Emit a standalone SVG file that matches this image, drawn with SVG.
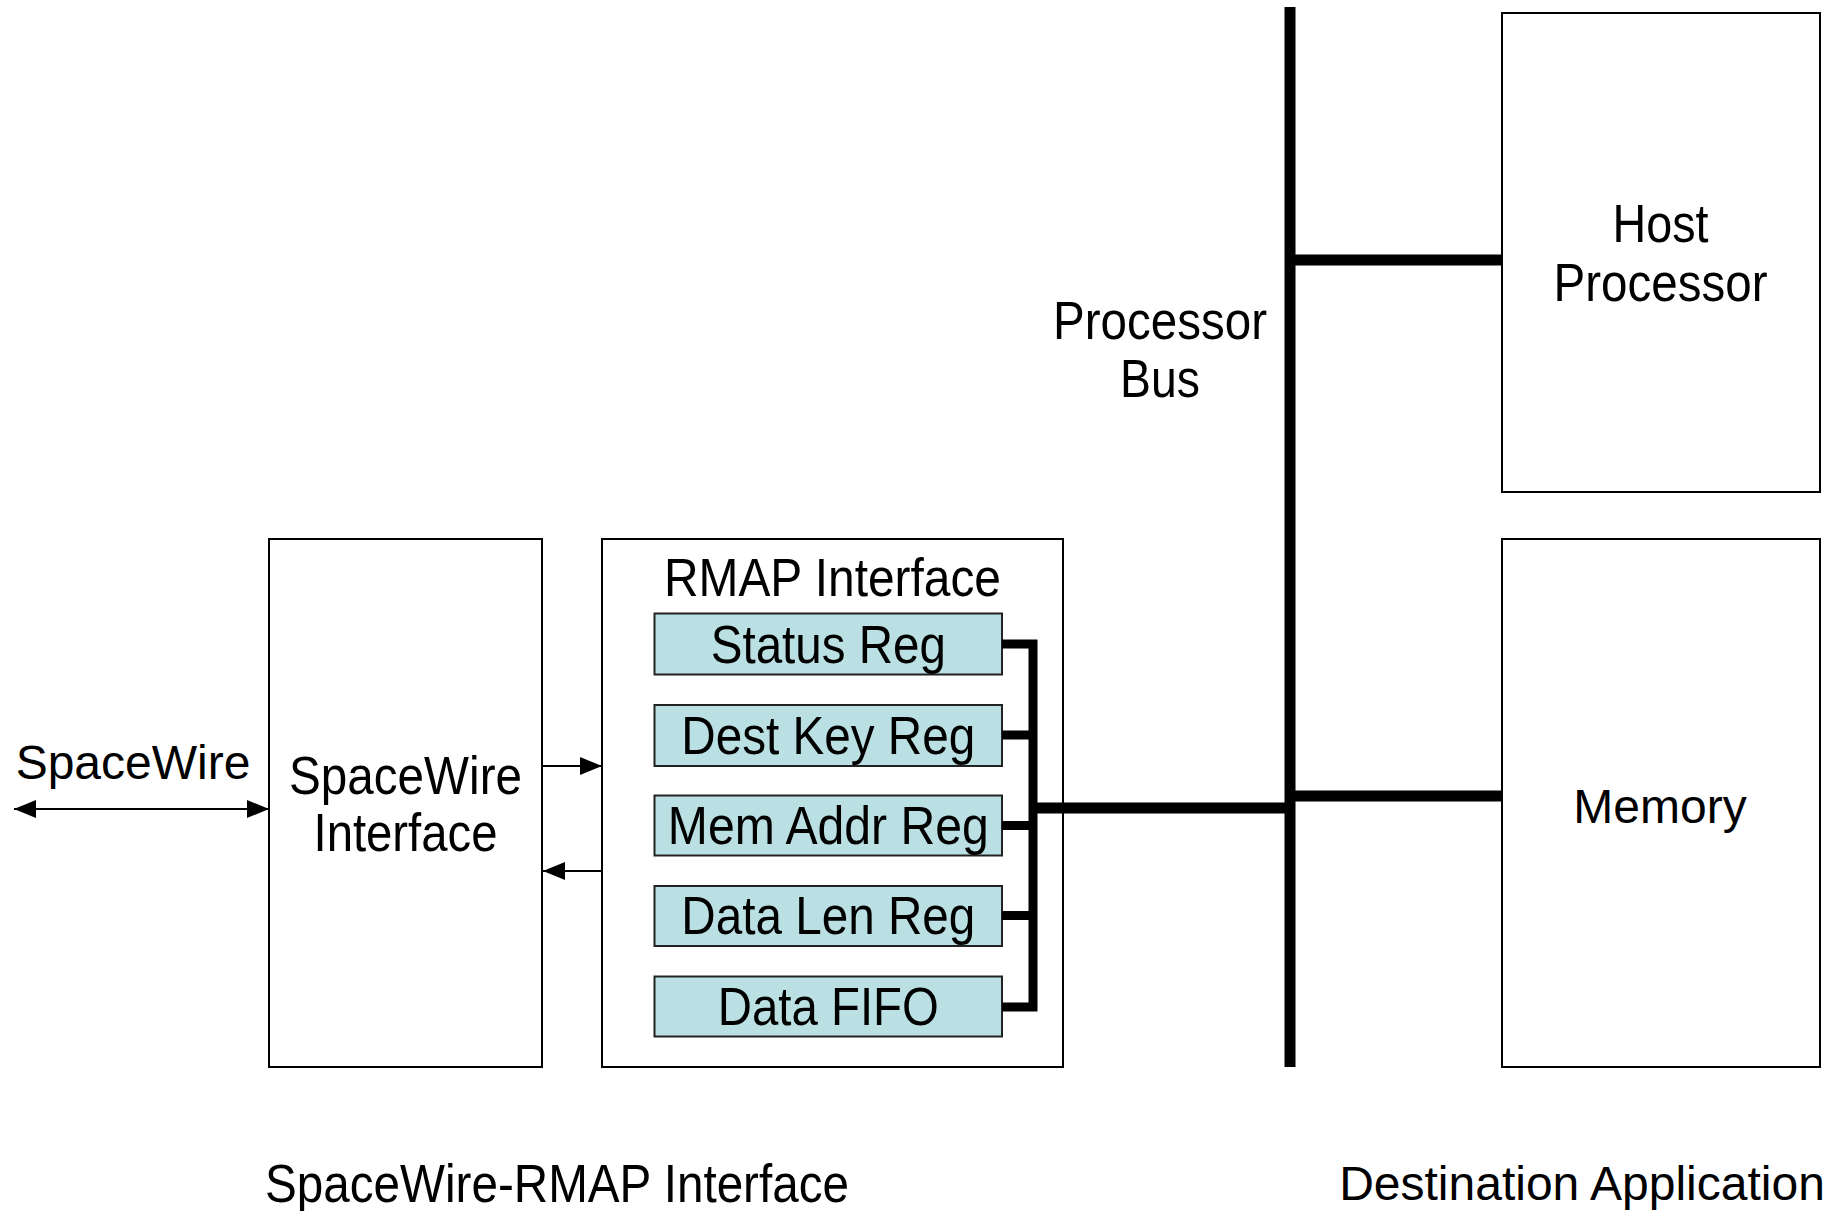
<svg xmlns="http://www.w3.org/2000/svg" width="1836" height="1211" viewBox="0 0 1836 1211">
  <defs>
    <marker id="arrowBig" viewBox="0 0 10 10" refX="10" refY="5" markerWidth="22" markerHeight="18" markerUnits="userSpaceOnUse" orient="auto-start-reverse" preserveAspectRatio="none">
      <path d="M0,0 L10,5 L0,10 z" fill="#000"/>
    </marker>
  </defs>
  <style>
    .box { fill: #fff; stroke: #000; stroke-width: 2; }
    .reg { fill: #bbe0e3; stroke: #222; stroke-width: 2; }
    .lbl { font-family: "Liberation Sans", Arial, sans-serif; font-size: 48px; fill: #000; text-anchor: middle; }
    .tall { font-size: 54px; }
    .thin { fill: none; stroke: #000; stroke-width: 2; }
    .bus { fill: none; stroke: #000; stroke-width: 11; stroke-linejoin: miter; stroke-linecap: butt; }
    .rbus { fill: none; stroke: #000; stroke-width: 9; stroke-linejoin: miter; stroke-linecap: butt; }
  </style>
  <rect width="1836" height="1211" fill="#fff"/>

  <text class="lbl" x="133" y="779">SpaceWire</text>

  <g id="spacewire-interface">
    <rect class="box" x="269" y="539" width="273" height="528"/>
    <text class="lbl tall" x="405.5" y="794" textLength="233" lengthAdjust="spacingAndGlyphs">SpaceWire</text>
    <text class="lbl tall" x="405.5" y="851" textLength="184" lengthAdjust="spacingAndGlyphs">Interface</text>
  </g>

  <g id="rmap-interface">
    <rect class="box" x="602" y="539" width="461" height="528"/>
    <text class="lbl tall" x="832.5" y="596" textLength="337" lengthAdjust="spacingAndGlyphs">RMAP Interface</text>
  </g>

  <g id="status-reg">
    <rect class="reg" x="654.5" y="613.5" width="347.5" height="61"/>
    <text class="lbl tall" x="828.3" y="663" textLength="235" lengthAdjust="spacingAndGlyphs">Status Reg</text>
  </g>
  <g id="dest-key-reg">
    <rect class="reg" x="654.5" y="705" width="347.5" height="61"/>
    <text class="lbl tall" x="828.3" y="754" textLength="294" lengthAdjust="spacingAndGlyphs">Dest Key Reg</text>
  </g>
  <g id="mem-addr-reg">
    <rect class="reg" x="654.5" y="795.5" width="347.5" height="60"/>
    <text class="lbl tall" x="828.3" y="844" textLength="321" lengthAdjust="spacingAndGlyphs">Mem Addr Reg</text>
  </g>
  <g id="data-len-reg">
    <rect class="reg" x="654.5" y="886" width="347.5" height="60"/>
    <text class="lbl tall" x="828.3" y="934" textLength="294" lengthAdjust="spacingAndGlyphs">Data Len Reg</text>
  </g>
  <g id="data-fifo">
    <rect class="reg" x="654.5" y="976.5" width="347.5" height="60"/>
    <text class="lbl tall" x="828.3" y="1025" textLength="221" lengthAdjust="spacingAndGlyphs">Data FIFO</text>
  </g>

  <text class="lbl tall" x="1160" y="339" textLength="214" lengthAdjust="spacingAndGlyphs">Processor</text>
  <text class="lbl tall" x="1160" y="397" textLength="80" lengthAdjust="spacingAndGlyphs">Bus</text>

  <g id="host-processor">
    <rect class="box" x="1502" y="13" width="318" height="479"/>
    <text class="lbl tall" x="1660.5" y="242" textLength="96" lengthAdjust="spacingAndGlyphs">Host</text>
    <text class="lbl tall" x="1660.5" y="301" textLength="214" lengthAdjust="spacingAndGlyphs">Processor</text>
  </g>

  <g id="memory">
    <rect class="box" x="1502" y="539" width="318" height="528"/>
    <text class="lbl" x="1660" y="823">Memory</text>
  </g>

  <text class="lbl tall" x="557" y="1202" textLength="584" lengthAdjust="spacingAndGlyphs">SpaceWire-RMAP Interface</text>
  <text class="lbl" x="1582" y="1200">Destination Application</text>

  <!-- connectors, drawn over the boxes -->
  <g id="connectors">
    <line class="thin" x1="14" y1="809" x2="269" y2="809" marker-start="url(#arrowBig)" marker-end="url(#arrowBig)"/>
    <line class="thin" x1="542" y1="766" x2="602" y2="766" marker-end="url(#arrowBig)"/>
    <line class="thin" x1="602" y1="871" x2="543" y2="871" marker-end="url(#arrowBig)"/>
    <!-- register bus -->
    <path class="rbus" d="M1002,644 H1033 V1007 H1002"/>
    <path class="rbus" d="M1002,735 H1033 M1002,825.5 H1033 M1002,915.5 H1033"/>
    <line class="bus" x1="1033" y1="808" x2="1290" y2="808"/>
    <!-- processor bus -->
    <line class="bus" x1="1290" y1="7" x2="1290" y2="1067"/>
    <line class="bus" x1="1290" y1="260" x2="1503" y2="260"/>
    <line class="bus" x1="1290" y1="796" x2="1503" y2="796"/>
  </g>
</svg>
